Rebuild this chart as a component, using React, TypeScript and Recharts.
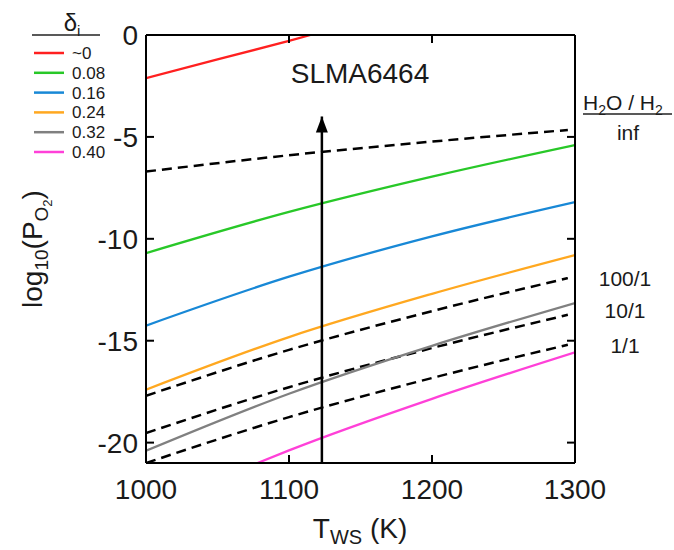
import React from 'react';
import { LineChart, Line, XAxis, YAxis } from 'recharts';

if (typeof document !== 'undefined') {
  document.body.style.margin = '0';
}

const FONT = '"Liberation Sans", Arial, Helvetica, sans-serif';
const TXT = '#1a1a1a';

const xTicks = [1000, 1100, 1200, 1300];
const yTicks = [0, -5, -10, -15, -20];

// δi series (solid)
const deltaLabels = ['~0', '0.08', '0.16', '0.24', '0.32', '0.40'];
const deltaColors = ['#ff2020', '#28c828', '#1888d6', '#ffa820', '#808080', '#ff40d8'];

const tRed = [1000, 1050, 1100, 1115];
const pRed = [-2.12, -1.2, -0.29, 0];
const tSolid = [1000, 1100, 1200, 1300];
const pGreen = [-10.7, -8.68, -6.95, -5.4];
const pBlue = [-14.26, -11.86, -9.88, -8.2];
const pOrange = [-17.4, -14.82, -12.7, -10.8];
const pGray = [-20.4, -17.6, -15.25, -13.15];
const tPink = [1078, 1100, 1200, 1300];
const pPink = [-21, -20.38, -17.85, -15.57];

// H2O / H2 ratio series (dashed)
const ratioLabels = ['inf', '100/1', '10/1', '1/1'];
const tDash = [1000, 1100, 1200, 1295];
const pInf = [-6.7, -5.9, -5.23, -4.66];
const p100 = [-17.7, -15.45, -13.55, -11.93];
const p10 = [-19.53, -17.28, -15.36, -13.73];
const p1 = [-21.0, -18.75, -16.83, -15.2];

// SLMA6464 arrow
const arrowT = [1123, 1123];
const arrowP = [-21, -4.0];

const zip = (xs: number[], ys: number[]) => xs.map((x, i) => ({ x, y: ys[i] }));

const solidSeries = [
  { name: deltaLabels[0], color: deltaColors[0], data: zip(tRed, pRed), curve: 'linear' },
  { name: deltaLabels[1], color: deltaColors[1], data: zip(tSolid, pGreen), curve: 'monotone' },
  { name: deltaLabels[2], color: deltaColors[2], data: zip(tSolid, pBlue), curve: 'monotone' },
  { name: deltaLabels[3], color: deltaColors[3], data: zip(tSolid, pOrange), curve: 'monotone' },
  { name: deltaLabels[4], color: deltaColors[4], data: zip(tSolid, pGray), curve: 'monotone' },
  { name: deltaLabels[5], color: deltaColors[5], data: zip(tPink, pPink), curve: 'monotone' },
];

const dashedSeries = [
  { name: ratioLabels[0], data: zip(tDash, pInf) },
  { name: ratioLabels[1], data: zip(tDash, p100) },
  { name: ratioLabels[2], data: zip(tDash, p10) },
  { name: ratioLabels[3], data: zip(tDash, p1) },
];

const arrowData = zip(arrowT, arrowP);

const ArrowHead = (props: any) => {
  const { cx, cy, index } = props;
  if (index !== arrowData.length - 1) return <g key={`a${index}`} />;
  return (
    <polygon
      key={`a${index}`}
      points={`${cx},${cy} ${cx - 6},${cy + 16} ${cx + 6},${cy + 16}`}
      fill="#000"
    />
  );
};

const YLabel = () => (
  <text
    x={42}
    y={249}
    transform="rotate(-90, 42, 249)"
    textAnchor="middle"
    fontFamily={FONT}
    fontSize={28}
    fill={TXT}
  >
    log
    <tspan fontSize={19} dy={6}>10</tspan>
    <tspan fontSize={28} dy={-6}>(P</tspan>
    <tspan fontSize={19} dy={6}>O</tspan>
    <tspan fontSize={13} dy={4}>2</tspan>
    <tspan fontSize={28} dy={-10}>)</tspan>
  </text>
);

const XLabel = () => (
  <text x={360} y={538} textAnchor="middle" fontFamily={FONT} fontSize={28} fill={TXT}>
    T
    <tspan fontSize={20} dy={6}>WS</tspan>
    <tspan fontSize={28} dy={-6}> (K)</tspan>
  </text>
);

const axisLine = { stroke: '#000', strokeWidth: 2 };
const tickLine = { stroke: '#000', strokeWidth: 2 };
const tickStyle = { fontSize: 28, fill: TXT, fontFamily: FONT };

export default function App() {
  return (
    <div style={{ position: 'relative', width: 674, height: 550, background: '#fff' }}>
      <LineChart
        width={674}
        height={550}
        margin={{ top: 33, right: 97, bottom: 27, left: 86 }}
      >
        <XAxis
          xAxisId={0}
          dataKey="x"
          type="number"
          domain={[1000, 1300]}
          ticks={xTicks}
          allowDataOverflow
          height={60}
          axisLine={axisLine}
          tickLine={tickLine}
          tickSize={-8}
          tickMargin={24}
          tick={tickStyle}
          interval={0}
          label={{ content: () => <XLabel /> }}
        />
        <XAxis
          xAxisId="top"
          orientation="top"
          dataKey="x"
          type="number"
          domain={[1000, 1300]}
          ticks={xTicks}
          allowDataOverflow
          height={2}
          axisLine={axisLine}
          tickLine={tickLine}
          tickSize={-8}
          tickFormatter={() => ''}
          interval={0}
        />
        <YAxis
          yAxisId={0}
          dataKey="y"
          type="number"
          domain={[-21, 0]}
          ticks={yTicks}
          allowDataOverflow
          width={60}
          axisLine={axisLine}
          tickLine={tickLine}
          tickSize={-8}
          tickMargin={16}
          tick={tickStyle}
          interval={0}
          label={{ content: () => <YLabel /> }}
        />
        <YAxis
          yAxisId="right"
          orientation="right"
          dataKey="y"
          type="number"
          domain={[-21, 0]}
          ticks={yTicks}
          allowDataOverflow
          width={2}
          axisLine={axisLine}
          tickLine={tickLine}
          tickSize={-8}
          tickFormatter={() => ''}
          interval={0}
        />
        {dashedSeries.map((s) => (
          <Line
            key={`d-${s.name}`}
            data={s.data}
            dataKey="y"
            type="monotone"
            stroke="#000"
            strokeWidth={2.5}
            strokeDasharray="10 6"
            dot={false}
            isAnimationActive={false}
          />
        ))}
        {solidSeries.map((s) => (
          <Line
            key={`s-${s.name}`}
            data={s.data}
            dataKey="y"
            type={s.curve as any}
            stroke={s.color}
            strokeWidth={2.3}
            dot={false}
            isAnimationActive={false}
          />
        ))}
        <Line
          data={arrowData}
          dataKey="y"
          type="linear"
          stroke="#000"
          strokeWidth={2.5}
          dot={ArrowHead}
          isAnimationActive={false}
        />
      </LineChart>
      <svg
        width={674}
        height={550}
        style={{ position: 'absolute', left: 0, top: 0, pointerEvents: 'none' }}
      >
        {/* legend */}
        <text x={72} y={31} textAnchor="middle" fontFamily={FONT} fontSize={24} fill={TXT}>
          δ<tspan fontSize={15} dy={5}>i</tspan>
        </text>
        <line x1={32} y1={35} x2={100} y2={35} stroke="#222" strokeWidth={1.5} />
        {solidSeries.map((s, i) => {
          const cy = 53 + i * 19.8;
          return (
            <g key={`lg-${s.name}`}>
              <line x1={34} y1={cy} x2={64} y2={cy} stroke={s.color} strokeWidth={2.5} />
              <text x={72} y={cy + 6} fontFamily={FONT} fontSize={17} fill={TXT}>
                {s.name}
              </text>
            </g>
          );
        })}
        {/* title */}
        <text x={360} y={83} textAnchor="middle" fontFamily={FONT} fontSize={28} fill={TXT}>
          SLMA6464
        </text>
        {/* ratio labels */}
        <text x={583} y={110} fontFamily={FONT} fontSize={21} fill={TXT}>
          H<tspan fontSize={14} dy={5}>2</tspan>
          <tspan fontSize={21} dy={-5}>O / H</tspan>
          <tspan fontSize={14} dy={5}>2</tspan>
        </text>
        <line x1={583} y1={114} x2={672} y2={114} stroke="#222" strokeWidth={1.5} />
        <text x={628} y={140} textAnchor="middle" fontFamily={FONT} fontSize={21} fill={TXT}>
          {ratioLabels[0]}
        </text>
        <text x={625} y={286} textAnchor="middle" fontFamily={FONT} fontSize={21} fill={TXT}>
          {ratioLabels[1]}
        </text>
        <text x={625} y={318} textAnchor="middle" fontFamily={FONT} fontSize={21} fill={TXT}>
          {ratioLabels[2]}
        </text>
        <text x={625} y={353} textAnchor="middle" fontFamily={FONT} fontSize={21} fill={TXT}>
          {ratioLabels[3]}
        </text>
      </svg>
    </div>
  );
}
